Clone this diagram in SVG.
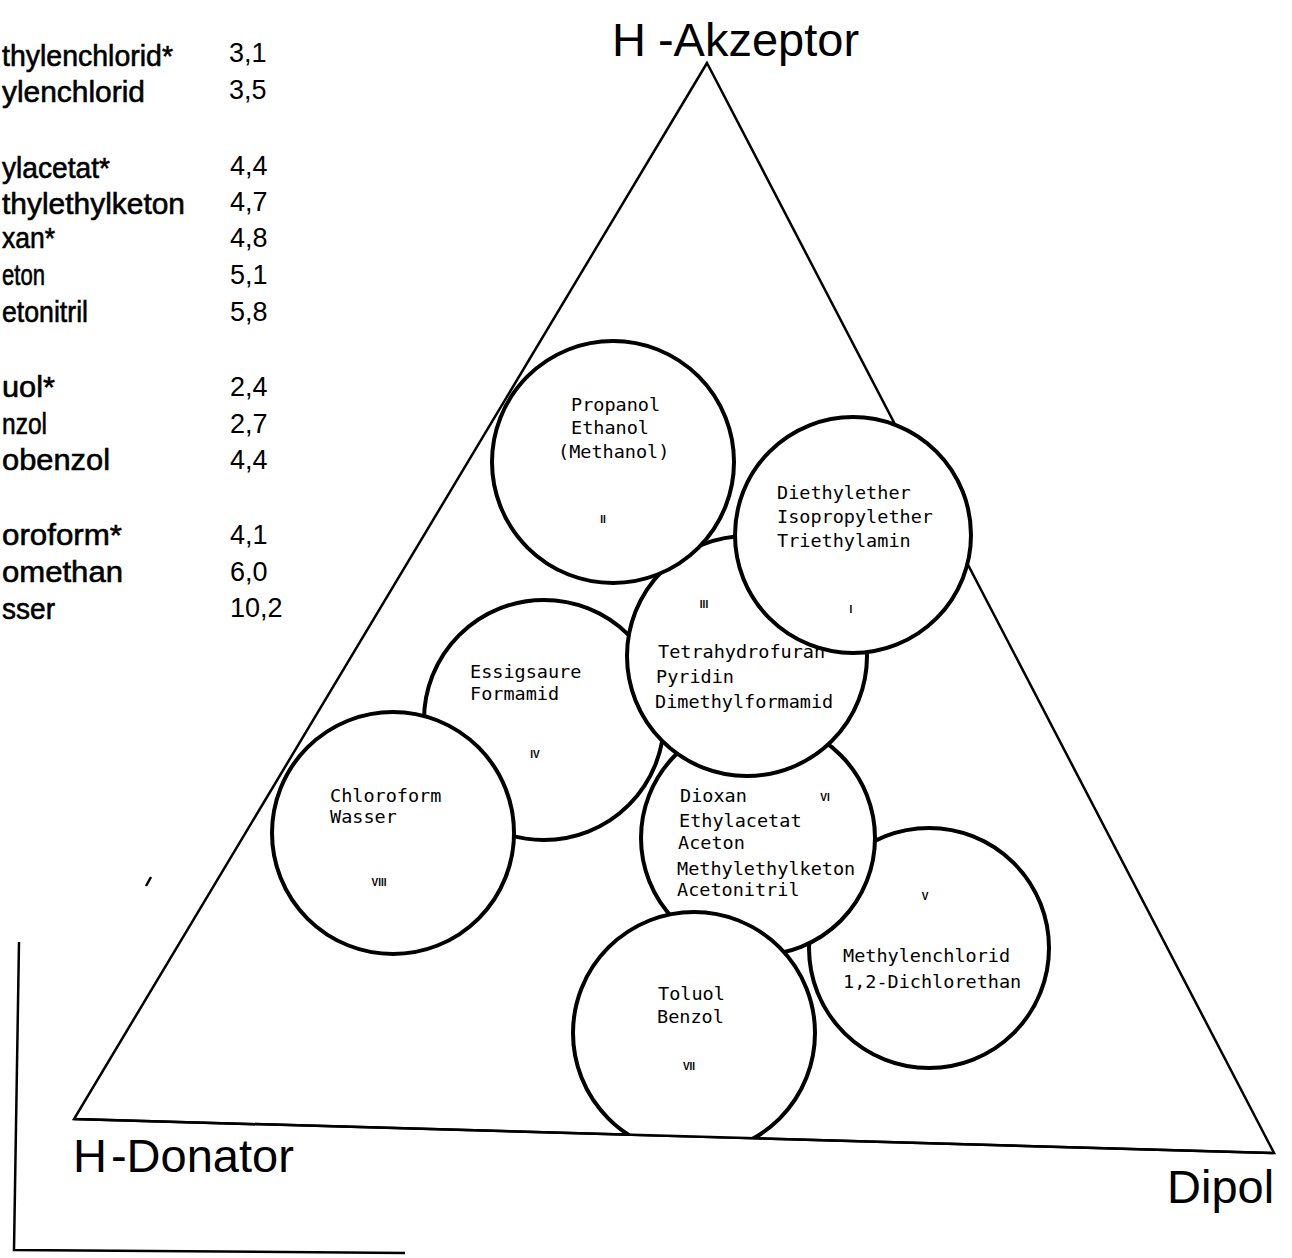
<svg xmlns="http://www.w3.org/2000/svg" width="1292" height="1258" viewBox="0 0 1292 1258">
<style>
.bg{fill:#fff}
.ax{fill:none;stroke:#000;stroke-width:2.5;stroke-linejoin:miter}
.c{fill:#fff;stroke:#000;stroke-width:4}
.t{font-family:"DejaVu Sans Mono","Liberation Mono",monospace;font-size:18.5px;fill:#000}
.r{font-family:"Liberation Sans",Arial,sans-serif;font-size:10px;font-weight:bold;fill:#000;text-anchor:middle}
.big{font-family:"Liberation Sans",Arial,sans-serif;font-size:47px;fill:#000}
.nm{font-family:"Liberation Sans",Arial,sans-serif;font-size:30px;fill:#000;stroke:#000;stroke-width:0.6}
.nv{font-family:"Liberation Sans",Arial,sans-serif;font-size:27px;fill:#000}
</style>
<defs>
<clipPath id="aboveBase"><polygon points="0,0 1292,0 1292,1153.5 0,1117"/></clipPath>
</defs>
<rect class="bg" x="0" y="0" width="1292" height="1258"/>

<g id="legend">
<text class="nm" x="2" y="66" textLength="171" lengthAdjust="spacingAndGlyphs">thylenchlorid*</text><text class="nv" x="229" y="62">3,1</text>
<text class="nm" x="2" y="102" textLength="143" lengthAdjust="spacingAndGlyphs">ylenchlorid</text><text class="nv" x="229" y="99">3,5</text>
<text class="nm" x="2" y="178" textLength="108" lengthAdjust="spacingAndGlyphs">ylacetat*</text><text class="nv" x="230" y="175">4,4</text>
<text class="nm" x="2" y="214" textLength="183" lengthAdjust="spacingAndGlyphs">thylethylketon</text><text class="nv" x="230" y="211">4,7</text>
<text class="nm" x="2" y="248" textLength="53" lengthAdjust="spacingAndGlyphs">xan*</text><text class="nv" x="230" y="247">4,8</text>
<text class="nm" x="2" y="285" textLength="43" lengthAdjust="spacingAndGlyphs">eton</text><text class="nv" x="230" y="284">5,1</text>
<text class="nm" x="2" y="322" textLength="86" lengthAdjust="spacingAndGlyphs">etonitril</text><text class="nv" x="230" y="321">5,8</text>
<text class="nm" x="2" y="397" textLength="53" lengthAdjust="spacingAndGlyphs">uol*</text><text class="nv" x="230" y="396">2,4</text>
<text class="nm" x="2" y="434" textLength="45" lengthAdjust="spacingAndGlyphs">nzol</text><text class="nv" x="230" y="433">2,7</text>
<text class="nm" x="2" y="470" textLength="108" lengthAdjust="spacingAndGlyphs">obenzol</text><text class="nv" x="230" y="469">4,4</text>
<text class="nm" x="2" y="545" textLength="120" lengthAdjust="spacingAndGlyphs">oroform*</text><text class="nv" x="230" y="544">4,1</text>
<text class="nm" x="2" y="582" textLength="121" lengthAdjust="spacingAndGlyphs">omethan</text><text class="nv" x="230" y="581">6,0</text>
<text class="nm" x="2" y="619" textLength="53" lengthAdjust="spacingAndGlyphs">sser</text><text class="nv" x="230" y="617">10,2</text>
</g>

<g id="frame">
<polyline class="ax" points="19,942 14,1250 405,1253" stroke-width="3"/>
<line class="ax" x1="146" y1="886" x2="151" y2="877" stroke-width="3"/>
</g>

<g id="triangle">
<polygon class="ax" points="707,63 74,1119 1274,1153"/>
<text class="big" x="612" y="56">H<tspan dx="12">-</tspan>Akzeptor</text>
<text class="big" x="73" y="1172">H<tspan dx="4">-</tspan>Donator</text>
<text class="big" x="1167" y="1203" font-size="46">Dipol</text>
</g>

<g id="node-IV">
<circle class="c" cx="544" cy="720" r="120"/>
<text class="t" x="470" y="678">Essigsaure</text>
<text class="t" x="470" y="700">Formamid</text>
<text class="r" x="535" y="758">IV</text>
</g>

<g id="node-V">
<circle class="c" cx="929" cy="948" r="120"/>
<text class="r" x="925" y="900">V</text>
<text class="t" x="843" y="962">Methylenchlorid</text>
<text class="t" x="843" y="988">1,2-Dichlorethan</text>
</g>

<g id="node-VI">
<circle class="c" cx="758" cy="838" r="117"/>
<text class="t" x="680" y="802">Dioxan</text>
<text class="r" x="825" y="801">VI</text>
<text class="t" x="679" y="827">Ethylacetat</text>
<text class="t" x="678" y="849">Aceton</text>
<text class="t" x="677" y="875">Methylethylketon</text>
<text class="t" x="677" y="896">Acetonitril</text>
</g>

<g id="node-III">
<circle class="c" cx="747" cy="656" r="120"/>
<text class="r" x="704" y="608">III</text>
<text class="t" x="658" y="658">Tetrahydrofuran</text>
<text class="t" x="656" y="683">Pyridin</text>
<text class="t" x="655" y="708">Dimethylformamid</text>
</g>

<g id="node-II">
<circle class="c" cx="613" cy="462" r="121"/>
<text class="t" x="571" y="411">Propanol</text>
<text class="t" x="571" y="434">Ethanol</text>
<text class="t" x="558" y="458">(Methanol)</text>
<text class="r" x="603" y="523">II</text>
</g>

<g id="node-I">
<circle class="c" cx="853" cy="535" r="118"/>
<text class="t" x="777" y="499">Diethylether</text>
<text class="t" x="777" y="523">Isopropylether</text>
<text class="t" x="777" y="547">Triethylamin</text>
<text class="r" x="851" y="613">I</text>
</g>

<g id="node-VII">
<circle class="c" cx="694" cy="1033" r="121" clip-path="url(#aboveBase)"/>
<text class="t" x="658" y="1000">Toluol</text>
<text class="t" x="657" y="1023">Benzol</text>
<text class="r" x="689" y="1070">VII</text>
</g>

<g id="node-VIII">
<circle class="c" cx="393" cy="833" r="121"/>
<text class="t" x="330" y="802">Chloroform</text>
<text class="t" x="330" y="823">Wasser</text>
<text class="r" x="379" y="886">VIII</text>
</g>

<g id="connectors">
<line class="ax" x1="74" y1="1119" x2="1274" y2="1153"/>
</g>
</svg>
